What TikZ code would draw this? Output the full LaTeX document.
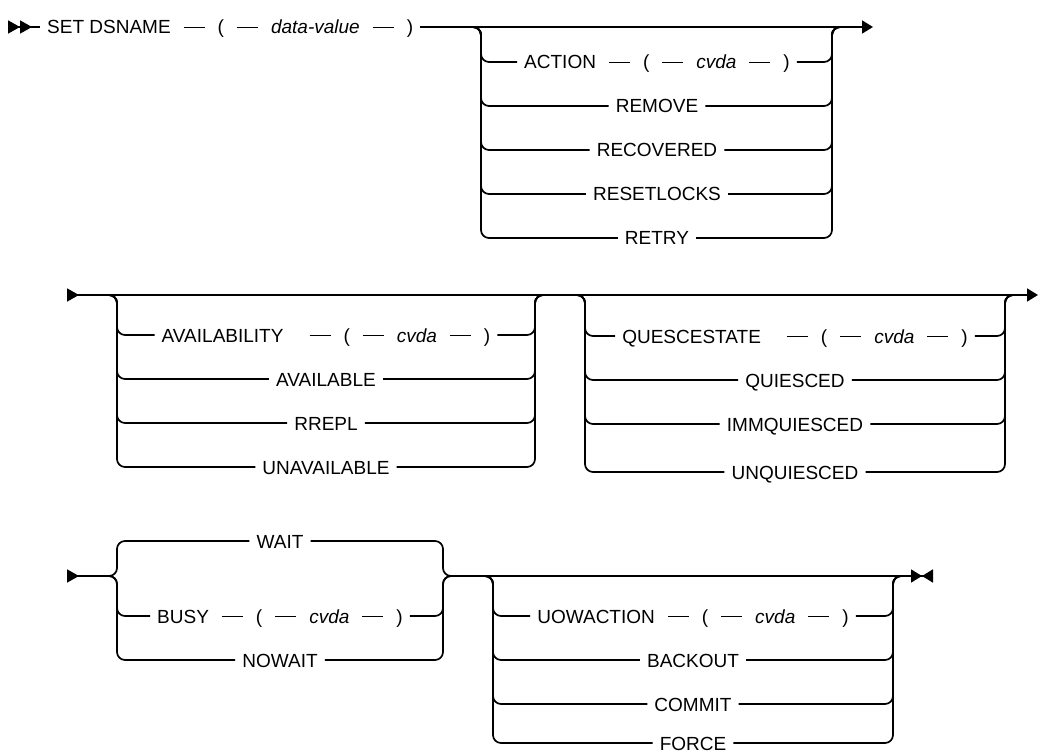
\documentclass[tikz,border=0pt]{standalone}
\usepackage{fontspec}
\setmainfont{Liberation Sans}
\usetikzlibrary{arrows.meta, calc}

\newcommand{\rsp}{\hskip 13pt}
\newcommand{\rdash}{\rsp\rule[0.3em]{21pt}{1.4pt}\rsp}

\begin{document}
\begin{tikzpicture}[
        x=1pt, y=-1pt,
        rail/.style={draw, line width=1.7pt, rounded corners=8pt},
        opt/.style={inner xsep=7pt, inner ysep=0pt, text height=17pt, text depth=3pt, font=\fontsize{19}{22}\selectfont}
    ]
        \fill[white] (0,0) rectangle (1039,754);
        \useasboundingbox (0,0) rectangle (1039,754);

        % Row 1
        \coordinate (start1) at (8,27);
        \coordinate (end1) at (873,27);
        \node[opt, anchor=west] (setcmd) at (40,27) {SET DSNAME\rdash(\rdash\textit{data-value}\rdash)};
        \draw[rail, {Triangle[reversed, length=12pt, width=13pt] Triangle[reversed, length=12pt, width=13pt]}-] (start1) -- (setcmd.west);
        \draw[rail, -{Triangle[length=11pt, width=13pt]}] (setcmd.east) -- (end1);

        % Group 1
        \coordinate (g1in) at (471,27);
        \coordinate (g1L) at (481,27);
        \coordinate (g1R) at (832,27);
        \coordinate (g1out) at (842,27);
        \node[opt] (action) at (657,62) {ACTION\rdash(\rdash\textit{cvda}\rdash)};
        \node[opt] (remove) at (657,106) {REMOVE};
        \node[opt] (recovered) at (657,150) {RECOVERED};
        \node[opt] (resetlocks) at (657,194) {RESETLOCKS};
        \node[opt] (retry) at (657,238) {RETRY};
        \draw[rail] (g1in) -| (g1L |- action.west) -- (action.west) (action.east) -| (g1R) -- (g1out);
        \draw[rail] (g1in) -| (g1L |- remove.west) -- (remove.west) (remove.east) -| (g1R) -- (g1out);
        \draw[rail] (g1in) -| (g1L |- recovered.west) -- (recovered.west) (recovered.east) -| (g1R) -- (g1out);
        \draw[rail] (g1in) -| (g1L |- resetlocks.west) -- (resetlocks.west) (resetlocks.east) -| (g1R) -- (g1out);
        \draw[rail] (g1in) -| (g1L |- retry.west) -- (retry.west) (retry.east) -| (g1R) -- (g1out);

        % Row 2
        \coordinate (start2) at (67,295);
        \coordinate (end2) at (1038,295);
        \draw[rail, {Triangle[reversed, length=12pt, width=13pt]}-{Triangle[length=11pt, width=13pt]}] (start2) -- (end2);

        % Group A
        \coordinate (gAin) at (107,295);
        \coordinate (gAL) at (117,295);
        \coordinate (gAR) at (535,295);
        \coordinate (gAout) at (545,295);
        \node[opt] (availability) at (326,335) {AVAILABILITY\rsp\rdash(\rdash\textit{cvda}\rdash)};
        \node[opt] (available) at (326,379) {AVAILABLE};
        \node[opt] (rrepl) at (326,423) {RREPL};
        \node[opt] (unavailable) at (326,467) {UNAVAILABLE};
        \draw[rail] (gAin) -| (gAL |- availability.west) -- (availability.west) (availability.east) -| (gAR) -- (gAout);
        \draw[rail] (gAin) -| (gAL |- available.west) -- (available.west) (available.east) -| (gAR) -- (gAout);
        \draw[rail] (gAin) -| (gAL |- rrepl.west) -- (rrepl.west) (rrepl.east) -| (gAR) -- (gAout);
        \draw[rail] (gAin) -| (gAL |- unavailable.west) -- (unavailable.west) (unavailable.east) -| (gAR) -- (gAout);

        % Group B
        \coordinate (gBin) at (575,295);
        \coordinate (gBL) at (585,295);
        \coordinate (gBR) at (1005,295);
        \coordinate (gBout) at (1015,295);
        \node[opt] (quescestate) at (795,336) {QUESCESTATE\rsp\rdash(\rdash\textit{cvda}\rdash)};
        \node[opt] (quiesced) at (795,380) {QUIESCED};
        \node[opt] (immquiesced) at (795,424) {IMMQUIESCED};
        \node[opt] (unquiesced) at (795,472) {UNQUIESCED};
        \draw[rail] (gBin) -| (gBL |- quescestate.west) -- (quescestate.west) (quescestate.east) -| (gBR) -- (gBout);
        \draw[rail] (gBin) -| (gBL |- quiesced.west) -- (quiesced.west) (quiesced.east) -| (gBR) -- (gBout);
        \draw[rail] (gBin) -| (gBL |- immquiesced.west) -- (immquiesced.west) (immquiesced.east) -| (gBR) -- (gBout);
        \draw[rail] (gBin) -| (gBL |- unquiesced.west) -- (unquiesced.west) (unquiesced.east) -| (gBR) -- (gBout);

        % Row 3
        \coordinate (start3) at (67,576);
        \coordinate (end3) at (933,576);

        % Group C (WAIT is the default, above the line)
        \coordinate (gCin) at (107,576);
        \coordinate (gCL) at (117,576);
        \coordinate (gCR) at (443,576);
        \coordinate (gCout) at (453,576);
        \node[opt] (wait) at (280,541) {WAIT};
        \node[opt] (busy) at (280,616) {BUSY\rdash(\rdash\textit{cvda}\rdash)};
        \node[opt] (nowait) at (280,660) {NOWAIT};
        \draw[rail, {Triangle[reversed, length=12pt, width=13pt]}-] (start3) -- (gCin);
        \draw[rail] (gCin) -| (gCL |- wait.west) -- (wait.west) (wait.east) -| (gCR) -- (gCout);
        \draw[rail] (gCin) -| (gCL |- busy.west) -- (busy.west) (busy.east) -| (gCR) -- (gCout);
        \draw[rail] (gCin) -| (gCL |- nowait.west) -- (nowait.west) (nowait.east) -| (gCR) -- (gCout);
        \draw[rail, -{Triangle[length=11pt, width=13pt, sep=0pt] Triangle[reversed, length=11pt, width=13pt]}] (gCout) -- (end3);

        % Group D
        \coordinate (gDin) at (483,576);
        \coordinate (gDL) at (493,576);
        \coordinate (gDR) at (893,576);
        \coordinate (gDout) at (903,576);
        \node[opt] (uowaction) at (693,616) {UOWACTION\rdash(\rdash\textit{cvda}\rdash)};
        \node[opt] (backout) at (693,660) {BACKOUT};
        \node[opt] (commit) at (693,704) {COMMIT};
        \node[opt] (force) at (693,743) {FORCE};
        \draw[rail] (gDin) -| (gDL |- uowaction.west) -- (uowaction.west) (uowaction.east) -| (gDR) -- (gDout);
        \draw[rail] (gDin) -| (gDL |- backout.west) -- (backout.west) (backout.east) -| (gDR) -- (gDout);
        \draw[rail] (gDin) -| (gDL |- commit.west) -- (commit.west) (commit.east) -| (gDR) -- (gDout);
        \draw[rail] (gDin) -| (gDL |- force.west) -- (force.west) (force.east) -| (gDR) -- (gDout);
    \end{tikzpicture}
\end{document}
